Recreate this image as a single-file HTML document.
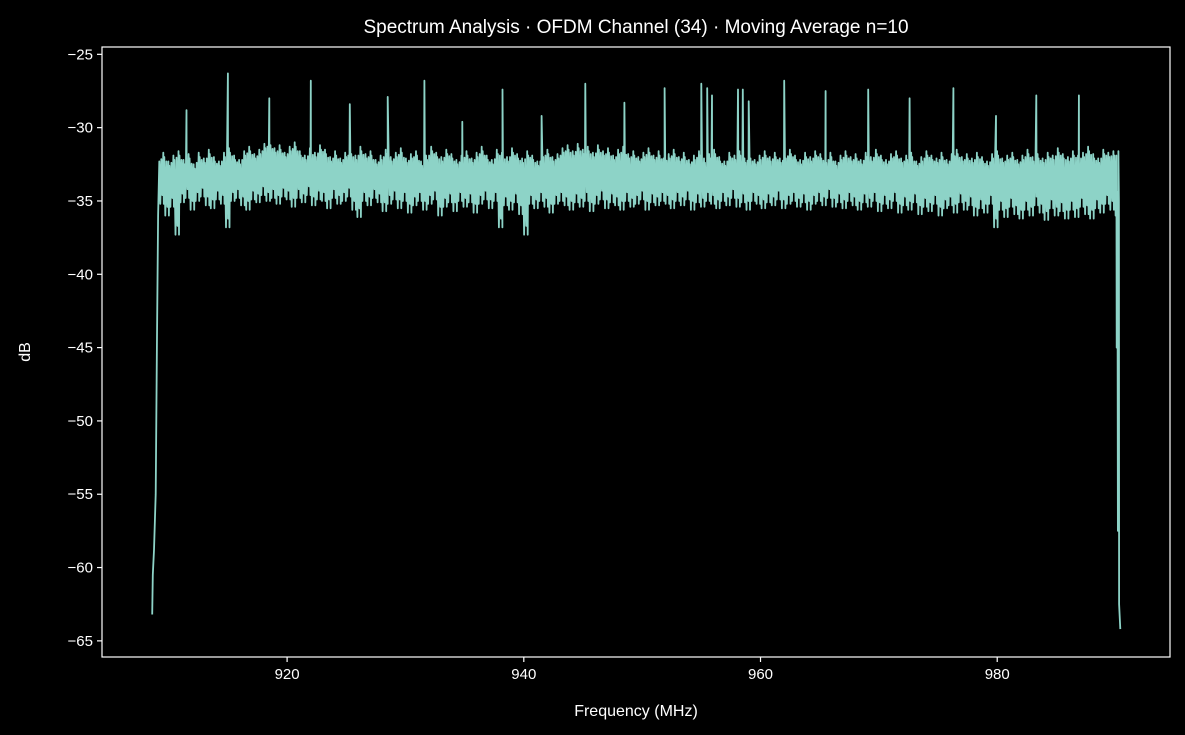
<!DOCTYPE html>
<html><head><meta charset="utf-8"><style>
html,body{margin:0;padding:0;background:#000;}
svg{display:block;font-family:"Liberation Sans","DejaVu Sans",sans-serif;}
</style></head><body>
<svg id="chart" width="1185" height="735">
<rect width="1185" height="735" fill="#000"/>
<text x="636" y="33" fill="#fff" font-size="19" text-anchor="middle">Spectrum Analysis · OFDM Channel (34) · Moving Average n=10</text>
<g id="yticks"></g>
<g id="xticks"></g>
<path id="series" fill="none" stroke="#8dd3c7" stroke-width="1.8" stroke-linejoin="round"/>
<rect x="102" y="47" width="1068" height="610" fill="none" stroke="#fff" stroke-width="1.2"/>
<text x="636" y="716" fill="#fff" font-size="16" text-anchor="middle">Frequency (MHz)</text>
<text x="30" y="352" fill="#fff" font-size="16" text-anchor="middle" transform="rotate(-90 30 352)">dB</text>
</svg>
<script>
const yTicks=[-25,-30,-35,-40,-45,-50,-55,-60,-65];
const xTicks=[920,940,960,980];
const bandStart=909.2, bandEnd=989.9;
const bandHigh=[
-32.3,-32.0,-32.6,-32.2,-31.9,-32.5,-32.1,-32.8,-32.0,-32.4,-31.8,-32.3,-32.6,-32.0,-31.7,-32.2,-32.5,-31.9,-31.6,-32.1,
-31.8,-31.4,-31.2,-31.7,-31.5,-32.0,-31.6,-31.3,-31.9,-32.2,-31.7,-32.0,-31.5,-31.8,-32.3,-31.9,-32.4,-32.0,-31.8,-32.2,
-31.6,-32.1,-31.9,-32.5,-32.2,-31.8,-32.3,-32.0,-31.7,-32.4,-32.1,-31.9,-32.6,-32.2,-31.6,-32.0,-32.3,-31.8,-32.1,-32.5,
-32.2,-31.9,-32.4,-32.0,-31.6,-32.2,-32.5,-31.8,-32.0,-32.3,-31.7,-32.1,-32.4,-31.9,-32.2,-32.6,-32.0,-31.8,-32.3,-32.1,
-31.7,-31.5,-31.9,-31.4,-31.8,-31.6,-32.0,-31.5,-31.9,-31.7,-32.2,-31.8,-31.6,-32.1,-31.9,-32.3,-32.0,-31.7,-32.2,-31.9,
-32.4,-32.1,-31.8,-32.3,-32.0,-32.5,-32.2,-31.9,-32.4,-32.1,-31.8,-32.3,-32.6,-32.0,-32.2,-31.9,-32.4,-32.1,-32.5,-32.2,
-31.9,-32.3,-32.0,-32.4,-32.1,-31.8,-32.2,-32.5,-32.0,-32.3,-31.9,-32.1,-32.4,-32.0,-32.6,-32.2,-31.9,-32.3,-32.1,-32.5,
-32.0,-32.3,-31.8,-32.2,-32.5,-32.1,-31.9,-32.4,-32.2,-32.0,-32.6,-32.3,-31.9,-32.2,-32.4,-32.0,-32.5,-32.1,-31.8,-32.3,
-32.1,-32.4,-32.0,-32.3,-32.6,-32.1,-31.9,-32.4,-32.2,-32.0,-32.5,-32.2,-31.8,-32.3,-32.1,-32.4,-32.0,-32.2,-31.7,-32.1,
-32.3,-31.9,-32.2,-32.0,-31.6,-32.1,-32.4,-31.8,-32.0,-31.9
];
const bandLow=[
-35.2,-36.0,-35.4,-37.3,-35.1,-34.8,-35.6,-35.0,-34.7,-35.3,-35.5,-34.9,-35.2,-36.8,-35.0,-34.8,-35.3,-35.6,-34.9,-35.1,
-34.6,-35.0,-34.8,-35.2,-34.7,-34.9,-35.4,-34.8,-35.1,-34.6,-35.3,-34.9,-35.0,-35.5,-34.8,-35.2,-35.0,-34.7,-35.6,-36.1,
-35.0,-35.3,-34.8,-35.1,-35.7,-35.2,-34.9,-35.5,-35.0,-35.8,-35.3,-35.0,-35.6,-35.2,-34.9,-36.0,-35.4,-35.1,-35.7,-35.0,
-35.4,-35.1,-35.8,-35.2,-34.9,-35.5,-35.0,-36.8,-35.3,-35.6,-35.1,-35.9,-37.3,-35.2,-35.5,-35.0,-35.4,-35.8,-35.2,-35.0,
-35.3,-35.6,-35.1,-35.4,-35.0,-35.7,-35.2,-34.9,-35.5,-35.1,-35.3,-35.6,-35.0,-35.4,-35.2,-34.9,-35.6,-35.1,-35.3,-35.0,
-35.2,-35.5,-35.0,-35.3,-34.9,-35.6,-35.1,-35.4,-35.0,-35.2,-35.5,-35.0,-35.3,-34.8,-35.4,-35.1,-35.6,-35.0,-35.2,-35.5,
-35.1,-35.3,-34.9,-35.5,-35.2,-35.0,-35.4,-35.1,-35.6,-35.2,-35.0,-35.3,-34.8,-35.4,-35.1,-35.5,-35.0,-35.3,-35.6,-35.1,
-35.4,-35.0,-35.7,-35.2,-35.5,-35.0,-35.8,-35.3,-35.6,-35.1,-35.9,-35.4,-35.7,-35.2,-36.0,-35.5,-35.3,-35.8,-35.1,-35.6,
-35.3,-36.0,-35.5,-35.8,-35.2,-36.8,-35.6,-36.1,-35.4,-35.9,-36.2,-35.6,-36.0,-35.3,-35.8,-36.3,-35.5,-36.0,-35.7,-36.2,
-35.6,-36.1,-35.4,-35.9,-36.2,-35.5,-35.8,-35.2,-35.6,-35.0
];
const spikeFreq=[911.5,915.0,918.5,922.0,925.3,928.5,931.6,934.8,938.2,941.5,945.2,948.5,951.9,955.0,955.5,955.9,958.1,958.5,959.0,962.0,965.5,969.1,972.6,976.3,979.9,983.3,986.9];
const spikeVal=[-28.8,-26.3,-28.0,-26.8,-28.4,-27.9,-26.8,-29.6,-27.4,-29.2,-27.0,-28.3,-27.3,-27.0,-27.3,-27.8,-27.4,-27.4,-28.2,-26.8,-27.5,-27.4,-28.0,-27.3,-29.2,-27.8,-27.8];
const edgeLeftFreq=[908.6,908.65,908.75,908.9,909.0,909.1];
const edgeLeftVal=[-63.2,-60.5,-58.8,-55.0,-45.0,-36.0];
const edgeRightFreq=[990.0,990.1,990.2,990.3,990.4];
const edgeRightVal=[-36.0,-45.0,-57.5,-62.5,-64.2];

const L=102,R=1170,T=47,B=657;
const xMin=904.36,xMax=994.6,yMin=-66.1,yMax=-24.5;
const sx=f=>L+(f-xMin)/(xMax-xMin)*(R-L);
const sy=v=>T+(yMax-v)/(yMax-yMin)*(B-T);
const NS="http://www.w3.org/2000/svg";
function mk(tag,attrs,parent){const e=document.createElementNS(NS,tag);for(const k in attrs)e.setAttribute(k,attrs[k]);parent.appendChild(e);return e;}
const yg=document.getElementById('yticks'), xg=document.getElementById('xticks');
yTicks.forEach(v=>{const y=sy(v);
 const l=mk('line',{x1:L-5,x2:L,y1:y,y2:y,stroke:'#fff','stroke-width':1.2},yg);
 
 
 const t=mk('text',{x:L-9,y:y+5,fill:'#fff','font-size':15,'text-anchor':'end'},yg);
 t.textContent='\u2212'+Math.abs(v);
 
 
});
xTicks.forEach(v=>{const x=sx(v);
 const l=mk('line',{x1:x,x2:x,y1:B,y2:B+5,stroke:'#fff','stroke-width':1.2},xg);
 
 
 const t=mk('text',{x:x,y:B+22,fill:'#fff','font-size':15,'text-anchor':'middle'},xg);
 t.textContent=v;
 
 
});
let pts=[];
edgeLeftFreq.forEach((f,i)=>pts.push([f,edgeLeftVal[i]]));
const n=bandHigh.length, step=(bandEnd-bandStart)/(n-1);
for(let i=0;i<n;i++){
 const f=bandStart+i*step, h=bandHigh[i], lo=bandLow[i], nh=bandHigh[Math.min(i+1,n-1)];
 pts.push([f,h]);pts.push([f+step*0.2,lo]);pts.push([f+step*0.4,(h+nh)/2]);
 pts.push([f+step*0.6,lo+0.6]);pts.push([f+step*0.8,nh+0.3]);pts.push([f+step*0.9,lo]);
}
spikeFreq.forEach((f,i)=>pts.push([f,spikeVal[i]]));
edgeRightFreq.forEach((f,i)=>pts.push([f,edgeRightVal[i]]));
pts.sort((a,b)=>a[0]-b[0]);
document.getElementById('series').setAttribute('d',pts.map((p,i)=>(i?'L':'M')+sx(p[0]).toFixed(1)+','+sy(p[1]).toFixed(1)).join(''));
</script>
</body></html>
